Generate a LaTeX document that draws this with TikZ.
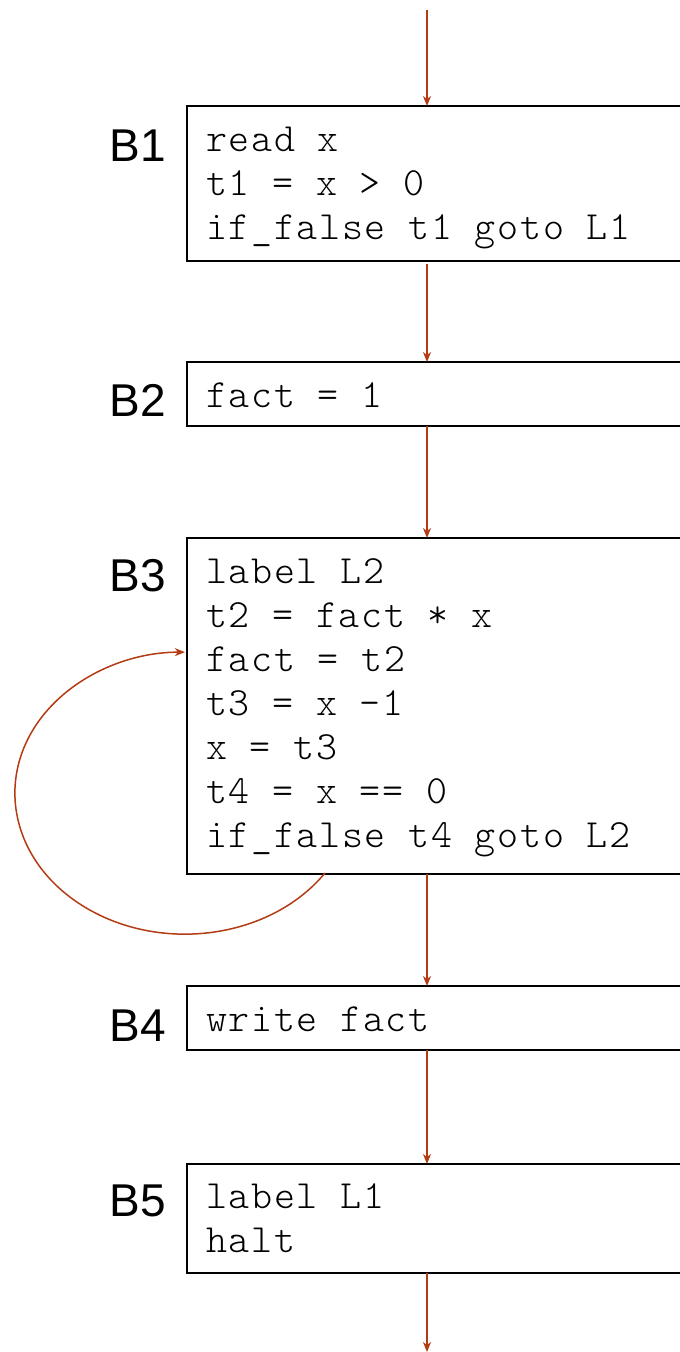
\documentclass[tikz,border=0pt]{standalone}
\usepackage{fontspec}
\setmainfont{Liberation Sans}
\setmonofont{Latin Modern Mono Light}[LetterSpace=4.2]
\usetikzlibrary{arrows.meta}
\definecolor{flow}{RGB}{180,60,20}
\begin{document}
\begin{tikzpicture}[x=1pt,y=-1pt,
  blk/.style={draw=black, line width=2pt, anchor=north west, inner sep=0pt, outer sep=0pt, minimum width=520pt},
  code/.style={anchor=base west, inner sep=0pt, font=\ttfamily\fontsize{40}{44}\selectfont},
  tag/.style={anchor=base east, inner sep=0pt, font=\fontsize{46}{50}\selectfont},
  flowarr/.style={draw=flow, line width=1.5pt, -{Stealth[length=10pt, width=8pt, inset=3pt]}}]
\useasboundingbox (0,0) rectangle (680,1352);
\clip (0,0) rectangle (680,1352);

% basic blocks
\node[blk, minimum height=155pt] (B1) at (187,106) {};
\node[blk, minimum height=64pt]  (B2) at (187,362) {};
\node[blk, minimum height=336pt] (B3) at (187,538) {};
\node[blk, minimum height=64pt]  (B4) at (187,986) {};
\node[blk, minimum height=109pt] (B5) at (187,1164) {};

% block names
\node[tag] (n1) at (166,161)  {B1};
\node[tag] (n2) at (166,416)  {B2};
\node[tag] (n3) at (166,591)  {B3};
\node[tag] (n4) at (166,1041) {B4};
\node[tag] (n5) at (166,1216) {B5};

% three-address code
\node[code] (c11) at (206,151) {read x};
\node[code] (c12) at (206,195) {t1 = x > 0};
\node[code] (c13) at (206,239) {if\_false t1 goto L1};

\node[code] (c21) at (206,407) {fact = 1};

\node[code] (c31) at (206,583) {label L2};
\node[code] (c32) at (206,627) {t2 = fact * x};
\node[code] (c33) at (206,671) {fact = t2};
\node[code] (c34) at (206,715) {t3 = x -1};
\node[code] (c35) at (206,759) {x = t3};
\node[code] (c36) at (206,803) {t4 = x == 0};
\node[code] (c37) at (206,847) {if\_false t4 goto L2};

\node[code] (c41) at (206,1031) {write fact};

\node[code] (c51) at (206,1208) {label L1};
\node[code] (c52) at (206,1252) {halt};

% control flow
\coordinate (cx) at (427,0);
\coordinate (entry) at (427,10);
\coordinate (exit) at (427,1352);
\draw[flowarr] (entry) -- (B1.north -| cx);
\draw[flowarr] ([yshift=-3pt]B1.south -| cx) -- (B2.north -| cx);
\draw[flowarr] (B2.south -| cx) -- (B3.north -| cx);
\draw[flowarr] (B3.south -| cx) -- (B4.north -| cx);
\draw[flowarr] (B4.south -| cx) -- (B5.north -| cx);
\draw[flowarr] (B5.south -| cx) -- (exit);

% back edge of the loop in B3
\coordinate (loopstart) at (325,873);
\draw[flowarr] (loopstart) arc[start angle=34.5, end angle=270, x radius=170, y radius=141];
\end{tikzpicture}
\end{document}
